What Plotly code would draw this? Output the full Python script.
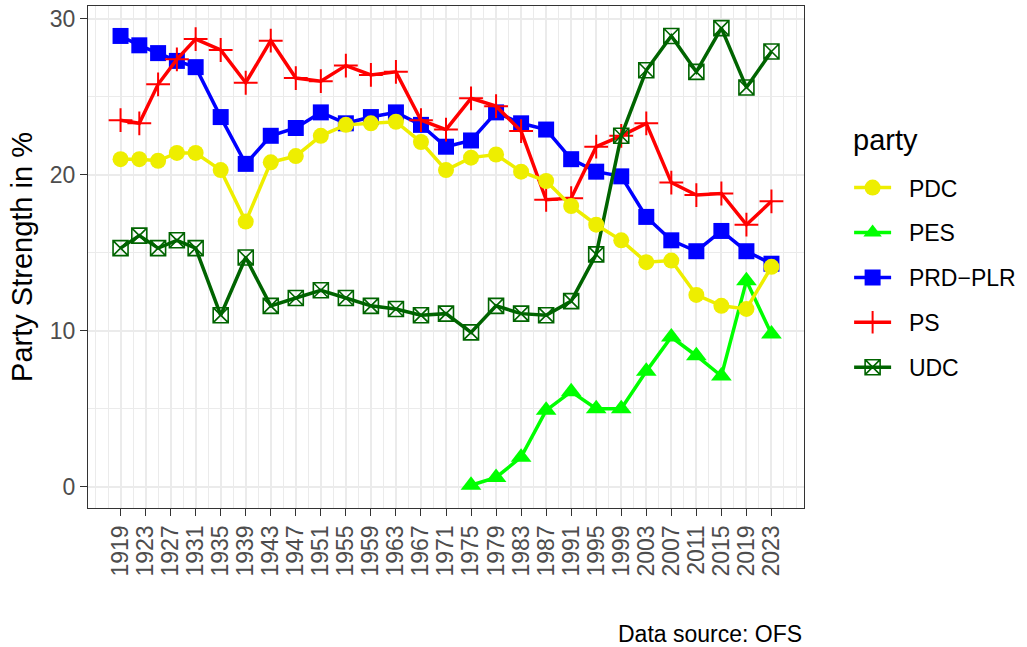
import plotly.graph_objects as go

years = [1919, 1922, 1925, 1928, 1931, 1935, 1939, 1943, 1947, 1951, 1955, 1959, 1963,
         1967, 1971, 1975, 1979, 1983, 1987, 1991, 1995, 1999, 2003, 2007, 2011, 2015,
         2019, 2023]

pdc = [21.0, 21.0, 20.9, 21.4, 21.4, 20.3, 17.0, 20.8, 21.2, 22.5, 23.2, 23.3, 23.4,
       22.1, 20.3, 21.1, 21.3, 20.2, 19.6, 18.0, 16.8, 15.8, 14.4, 14.5, 12.3, 11.6,
       11.4, 14.1]
pes = [None] * 15 + [0.1, 0.6, 1.9, 4.9, 6.1, 5.0, 5.0, 7.4, 9.6, 8.4, 7.1, 13.2, 9.8]
prd = [28.9, 28.3, 27.8, 27.3, 26.9, 23.7, 20.7, 22.5, 23.0, 24.0, 23.3, 23.7, 24.0,
       23.2, 21.8, 22.2, 24.0, 23.3, 22.9, 21.0, 20.2, 19.9, 17.3, 15.8, 15.1, 16.4,
       15.1, 14.3]
ps = [23.5, 23.3, 25.8, 27.4, 28.7, 28.0, 25.9, 28.6, 26.2, 26.0, 27.0, 26.4, 26.6,
      23.5, 22.9, 24.9, 24.4, 22.8, 18.4, 18.5, 21.8, 22.5, 23.3, 19.5, 18.7, 18.8,
      16.8, 18.3]
udc = [15.3, 16.1, 15.3, 15.8, 15.3, 11.0, 14.7, 11.6, 12.1, 12.6, 12.1, 11.6, 11.4,
       11.0, 11.1, 9.9, 11.6, 11.1, 11.0, 11.9, 14.9, 22.5, 26.7, 28.9, 26.6, 29.4,
       25.6, 27.9]

x_ticks = list(range(1919, 2024, 4))
y_ticks = [0, 10, 20, 30]

FONT = "Liberation Sans, Arial, sans-serif"
PAD = "\u00a0\u00a0"

# (name, values, color, symbol, size, marker line width, legend rank)
series = [
    ("PRD\u2212PLR", prd, "#0000FF", "square", 16, 0, 3),
    ("PES", pes, "#00FF00", "triangle-up", 18, 0, 2),
    ("PS", ps, "#FF0000", "cross-thin-open", 17, 2, 4),
    ("UDC", udc, "#006400", "square-x-open", 15, 1.6, 5),
    ("PDC", pdc, "#EEEE00", "circle", 16, 0, 1),
]

fig = go.Figure()
for name, vals, col, sym, sz, lw, rank in series:
    fig.add_trace(go.Scatter(
        x=years, y=vals, name=PAD + name, mode="lines+markers",
        line=dict(color=col, width=3.5),
        marker=dict(color=col, symbol=sym, size=sz,
                    line=dict(color=col, width=lw)),
        connectgaps=False, legendrank=rank, legendgroup=name,
    ))

fig.update_layout(
    width=1027, height=647,
    margin=dict(l=88, r=221, t=6, b=139),
    paper_bgcolor="white", plot_bgcolor="white",
    font=dict(family=FONT, color="black"),
    showlegend=True,
    legend=dict(
        font=dict(size=23, color="black"),
        x=1.063, xanchor="left", y=0.681, yanchor="top",
        itemwidth=37, tracegroupgap=12,
        bgcolor="rgba(0,0,0,0)",
    ),
    annotations=[
        dict(text="Data source: OFS", xref="paper", yref="paper",
             x=1.0, y=-0.251, xanchor="right", yanchor="middle",
             showarrow=False, font=dict(size=23, color="black", family=FONT)),
        dict(text="party", xref="paper", yref="paper",
             x=(853 - 88) / 718, y=(508 - 140) / 502, xanchor="left", yanchor="middle",
             showarrow=False, font=dict(size=29, color="black", family=FONT)),
    ],
)

fig.update_xaxes(
    range=[1913.8, 2028.2],
    tickmode="array", tickvals=x_ticks, ticktext=[str(v) for v in x_ticks],
    tickangle=-90, tickfont=dict(size=23, color="#4D4D4D"),
    ticks="outside", ticklen=7, tickwidth=1.3, tickcolor="#333333",
    showline=True, linecolor="#333333", linewidth=1.3, mirror=True,
    showgrid=True, gridcolor="#EBEBEB", gridwidth=2.2, zeroline=False,
    minor=dict(tickmode="array",
               tickvals=[1915] + list(range(1917, 2026, 4)) + [2027],
               showgrid=True, gridcolor="#EBEBEB", gridwidth=1.1, ticks=""),
)
fig.update_yaxes(
    range=[-1.36, 30.82],
    tickmode="array", tickvals=y_ticks, ticktext=[str(v) for v in y_ticks],
    tickfont=dict(size=23, color="#4D4D4D"),
    ticks="outside", ticklen=7, tickwidth=1.3, tickcolor="#333333",
    showline=True, linecolor="#333333", linewidth=1.3, mirror=True,
    showgrid=True, gridcolor="#EBEBEB", gridwidth=2.2, zeroline=False,
    minor=dict(tickmode="array", tickvals=[5, 15, 25],
               showgrid=True, gridcolor="#EBEBEB", gridwidth=1.1, ticks=""),
    title=dict(text="Party Strength in %", font=dict(size=29, color="black"),
               standoff=8),
)

fig.write_html("out.html",
               config={"displayModeBar": False},
               post_script="document.body.style.margin='0';document.body.style.padding='0';")
